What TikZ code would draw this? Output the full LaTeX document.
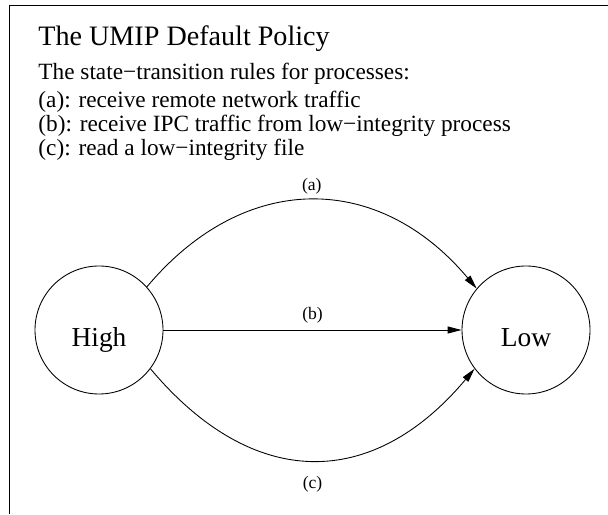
\documentclass[tikz,border=0pt]{standalone}
\usepackage{fontspec}
\setmainfont{Liberation Serif}
\usepackage{tikz}
\usetikzlibrary{arrows.meta,positioning}

\begin{document}
\begin{tikzpicture}[line width=0.5pt,
  state/.style={draw, circle, minimum size=2.56cm, inner sep=0pt,
    font=\fontsize{15.6}{18}\selectfont, text height=0.68cm, text depth=0pt},
  rule/.style={anchor=base west, inner sep=0pt, font=\fontsize{13.25}{15}\selectfont},
  tag/.style={font=\fontsize{10}{12}\selectfont},
  trans/.style={-{Triangle[length=0.28cm,width=0.14cm]}}]
\useasboundingbox (0,0) rectangle (12.16,10.28);
% open frame, top and left side only
\draw (0.18,0) -- (0.18,10.18) -- (12.16,10.18);
\node[rule, font=\fontsize{16}{19}\selectfont] (title) at (0.76,9.36) {The UMIP Default Policy};
\node[rule] (rules) at (0.76,8.68) {The state−transition rules for processes:};
\node[rule] (ra) at (0.76,8.12) {(a): receive remote network traffic};
\node[rule] (rb) at (0.76,7.64) {(b): receive IPC traffic from low−integrity process};
\node[rule] (rc) at (0.76,7.16) {(c): read a low−integrity file};
\node[state] (high) at (1.98,3.68) {High};
\node[state] (low)  at (10.52,3.68) {Low};
\draw[trans] (high.42) to[out=50, in=130, looseness=1.18] node[tag, above] {(a)} (low.140);
\draw[trans] (high) -- node[tag, above] {(b)} (low);
\draw[trans] (high.-37) to[out=-50, in=-130, looseness=1.26] node[tag, below=0.2cm] {(c)} (low.-143);
\end{tikzpicture}
\end{document}
